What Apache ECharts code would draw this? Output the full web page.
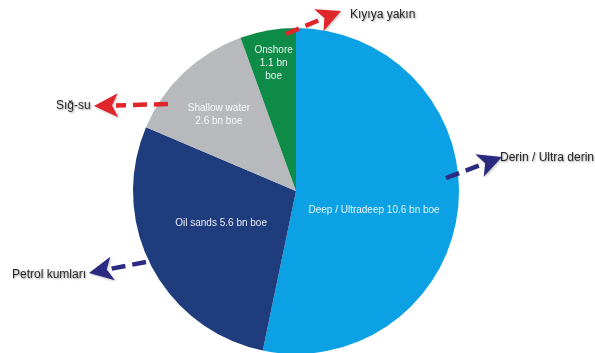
<!DOCTYPE html>
<html>
<head>
<meta charset="utf-8">
<script src="https://cdn.jsdelivr.net/npm/echarts@6/dist/echarts.min.js"></script>
<style>
  html, body { margin: 0; padding: 0; background: #fff; }
  #chart { width: 595px; height: 353px; }
</style>
</head>
<body>
<div id="chart"></div>
<script>
// slices, clockwise from 12 o'clock
const categories = ['Deep / Ultradeep', 'Oil sands', 'Shallow water', 'Onshore'];
const values = [10.6, 5.6, 2.6, 1.1];
const innerLabels = [
  'Deep / Ultradeep 10.6 bn boe',
  'Oil sands 5.6 bn boe',
  'Shallow water\n2.6 bn boe',
  'Onshore\n1.1 bn\nboe'
];
const trLabels = ['Derin / Ultra derin', 'Petrol kumları', 'Sığ-su', 'Kıyıya yakın'];

const colors = ['#0ba1e4', '#1f3c7d', '#b8b9bc', '#0f8b48'];
// nudge of inner labels: vertical blank space above (+) / below (-), horizontal shift left
const labelGaps = [22, -14, -30, 0];
const labelShiftLeft = [6, 0, 19, 0];

// annotation arrows: dashed tail, tip, colour, text position
const arrows = [
  { from: [446, 178], to: [502, 157], color: '#2a2a80', text: [500, 158] },
  { from: [146, 262], to: [89, 273], color: '#2a2a80', text: [12, 275] },
  { from: [168, 104], to: [94, 106], color: '#e1262b', text: [56, 106] },
  { from: [286, 34], to: [341, 11], color: '#e1262b', text: [350, 15] }
];

const arrowGraphic = (a) => {
  const [x1, y1] = a.from;
  const [x2, y2] = a.to;
  const len = Math.hypot(x2 - x1, y2 - y1);
  const ux = (x2 - x1) / len;
  const uy = (y2 - y1) / len;
  const headL = 24;
  const headW = 12;
  const bx = x2 - ux * headL;
  const by = y2 - uy * headL;
  return [
    {
      type: 'line',
      shape: { x1, y1, x2: bx + ux * 2, y2: by + uy * 2 },
      style: { stroke: a.color, lineWidth: 4.5, lineDash: [14, 7] },
      z: 10
    },
    {
      type: 'polygon',
      shape: {
        points: [
          [x2, y2],
          [bx - uy * headW, by + ux * headW],
          [bx + ux * 6, by + uy * 6],
          [bx + uy * headW, by - ux * headW]
        ]
      },
      style: { fill: a.color, shadowBlur: 3, shadowColor: 'rgba(0,0,0,0.25)', shadowOffsetX: 1, shadowOffsetY: 1 },
      z: 10
    }
  ];
};

const graphics = [];
arrows.forEach((a, i) => {
  graphics.push(...arrowGraphic(a));
  graphics.push({
    type: 'text',
    x: a.text[0],
    y: a.text[1],
    style: {
      text: trLabels[i],
      fill: '#262626',
      font: '12px "Liberation Sans Narrow", "Liberation Sans", sans-serif',
      textAlign: 'left',
      textVerticalAlign: 'middle',
      textShadowColor: 'rgba(0,0,0,0.4)',
      textShadowBlur: 2,
      textShadowOffsetX: 1,
      textShadowOffsetY: 1
    },
    z: 11
  });
});

const rich = {};
labelGaps.forEach((g, i) => {
  rich['g' + i] = { fontSize: 1, lineHeight: Math.abs(g) || 1 };
  rich['t' + i] = {
    color: 'rgba(255,255,255,0.9)',
    fontSize: 10,
    lineHeight: 13,
    fontFamily: 'Liberation Sans, sans-serif',
    padding: [0, labelShiftLeft[i] * 2, 0, 0]
  };
});
const richText = (i) => {
  const lines = innerLabels[i].split('\n').map(s => '{t' + i + '|' + s + '}');
  const gap = labelGaps[i];
  if (gap > 0) lines.unshift('{g' + i + '| }');
  if (gap < 0) lines.push('{g' + i + '| }');
  return lines.join('\n');
};

const labelStyle = {
  show: true,
  position: 'inside',
  align: 'center',
  rich
};

const chart = echarts.init(document.getElementById('chart'));
chart.setOption({
  animation: false,
  backgroundColor: '#fff',
  graphic: graphics,
  series: [
    {
      type: 'pie',
      center: [296, 191],
      radius: 163,
      startAngle: 90,
      clockwise: true,
      avoidLabelOverlap: false,
      data: categories.map((name, i) => ({
        name,
        value: values[i],
        itemStyle: { color: colors[i] },
        label: i === 3 ? { show: false } : { formatter: richText(i) }
      })),
      label: labelStyle,
      labelLine: { show: false },
      emphasis: { disabled: true }
    },
    {
      // transparent ring so the narrow Onshore label sits near the rim
      type: 'pie',
      center: [296, 191],
      radius: [90, 163],
      startAngle: 90,
      clockwise: true,
      silent: true,
      avoidLabelOverlap: false,
      z: 3,
      data: categories.map((name, i) => ({
        name,
        value: values[i],
        itemStyle: { color: 'transparent' },
        label: i === 3 ? { show: true, formatter: richText(i) } : { show: false }
      })),
      label: labelStyle,
      labelLine: { show: false },
      emphasis: { disabled: true }
    }
  ]
});
</script>
</body>
</html>
